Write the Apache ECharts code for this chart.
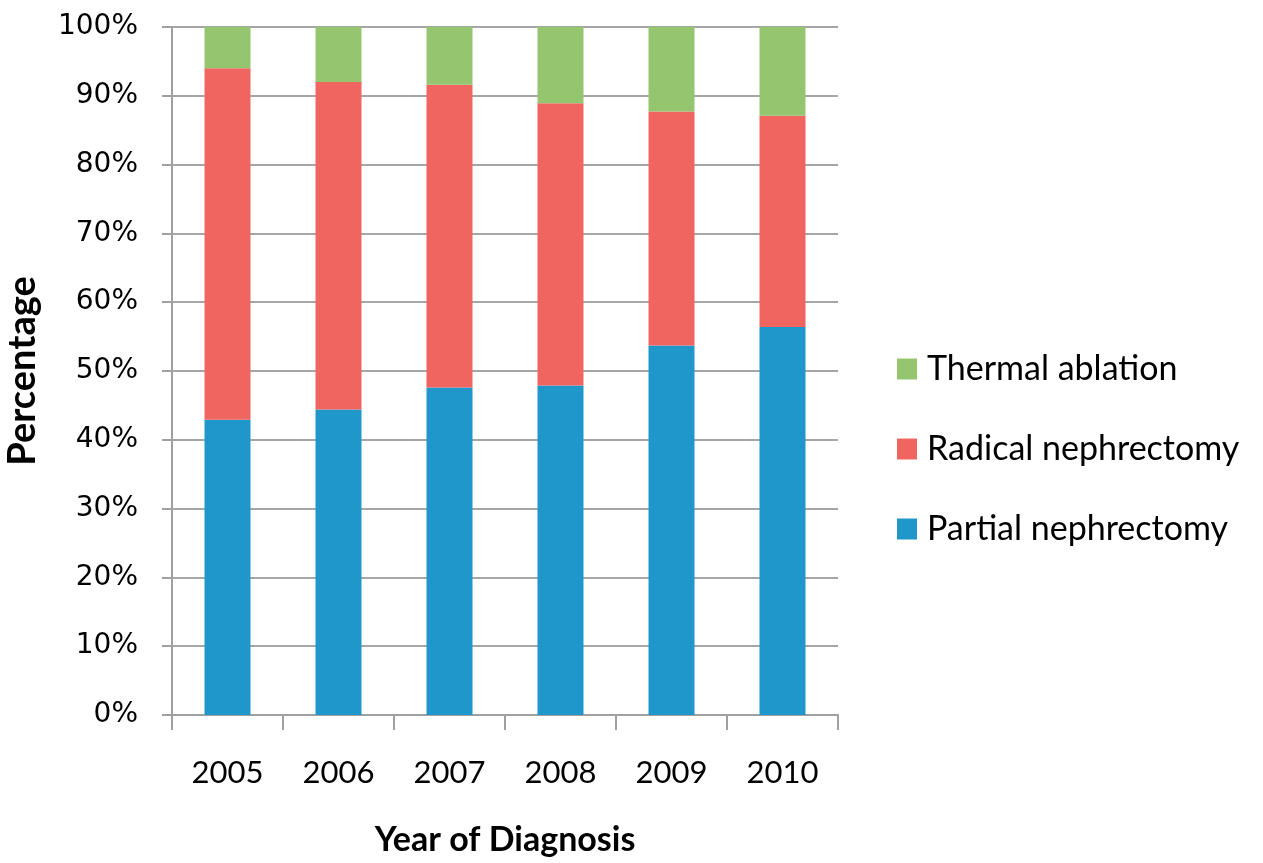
<!DOCTYPE html>
<html>
<head>
<meta charset="utf-8">
<script src="https://cdn.jsdelivr.net/npm/echarts@6/dist/echarts.min.js"></script>
<style>
html,body{margin:0;padding:0;background:#fff;}
#chart{width:1263px;height:863px;}
</style>
</head>
<body>
<div id="chart"></div>
<script>
const years = ['2005', '2006', '2007', '2008', '2009', '2010'];
const partialNephrectomy = [42.9, 44.4, 47.6, 47.9, 53.7, 56.4];
const radicalNephrectomy = [51.1, 47.6, 44.0, 41.0, 34.0, 30.7];
const thermalAblation = [6.0, 8.0, 8.4, 11.1, 12.3, 12.9];
const yTicks = [0, 10, 20, 30, 40, 50, 60, 70, 80, 90, 100];

const humanist = 'Lato, "Open Sans", sans-serif';
const chart = echarts.init(document.getElementById('chart'));
chart.setOption({
  animation: false,
  backgroundColor: '#ffffff',
  grid: { left: 172, right: 425, top: 27, bottom: 148, containLabel: false, outerBoundsMode: 'none' },
  legend: {
    orient: 'vertical',
    left: 897,
    top: 349,
    padding: 0,
    itemWidth: 20,
    itemHeight: 21,
    itemGap: 40,
    icon: 'rect',
    data: ['Thermal ablation', 'Radical nephrectomy', 'Partial nephrectomy'],
    textStyle: { fontFamily: humanist, fontSize: 34, color: '#000', lineHeight: 40, padding: [0, 0, 0, 5] }
  },
  xAxis: {
    type: 'category',
    data: years,
    name: 'Year of Diagnosis',
    nameLocation: 'middle',
    nameGap: 108,
    nameTextStyle: { fontFamily: humanist, fontWeight: 'bold', fontSize: 34, color: '#000' },
    axisLine: { lineStyle: { color: '#a0a0a0', width: 2 } },
    axisTick: { show: true, length: 15, lineStyle: { color: '#a0a0a0', width: 2 } },
    axisLabel: { fontFamily: humanist, fontSize: 31, color: '#000', margin: 42, interval: 0 }
  },
  yAxis: {
    type: 'value',
    min: 0,
    max: 100,
    interval: 10,
    name: 'Percentage',
    nameLocation: 'middle',
    nameRotate: 90,
    nameGap: 130,
    nameTextStyle: { fontFamily: humanist, fontWeight: 'bold', fontSize: 38, color: '#000' },
    axisLine: { show: true, lineStyle: { color: '#a0a0a0', width: 2 } },
    axisTick: { show: true, length: 10, lineStyle: { color: '#a0a0a0', width: 2 } },
    axisLabel: {
      fontFamily: '"DejaVu Sans", Verdana, sans-serif', fontSize: 28, color: '#000', margin: 34,
      formatter: v => yTicks.includes(v) ? v + '%' : ''
    },
    splitLine: { show: true, lineStyle: { color: '#a6a6a6', width: 2 } }
  },
  series: [
    { name: 'Partial nephrectomy', type: 'bar', stack: 'total', data: partialNephrectomy, barWidth: 46, itemStyle: { color: '#1f97cb' } },
    { name: 'Radical nephrectomy', type: 'bar', stack: 'total', data: radicalNephrectomy, barWidth: 46, itemStyle: { color: '#f06560' } },
    { name: 'Thermal ablation', type: 'bar', stack: 'total', data: thermalAblation, barWidth: 46, itemStyle: { color: '#95c66f' } }
  ]
});
</script>
</body>
</html>
